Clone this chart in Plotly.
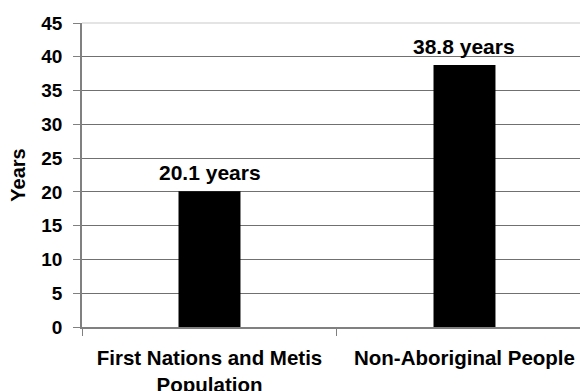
import plotly.graph_objects as go

categories = ["First Nations and Metis<br>Population", "Non-Aboriginal People"]
median_age = [20.1, 38.8]
bar_labels = [f"{v} years" for v in median_age]
y_ticks = [0, 5, 10, 15, 20, 25, 30, 35, 40, 45]

FONT = "Liberation Sans, Arial, sans-serif"

fig = go.Figure(
    go.Bar(
        x=categories,
        y=median_age,
        marker=dict(color="black", line=dict(width=0)),
        width=0.243,
    )
)

# value labels above each bar
for cat, val, lab in zip(categories, median_age, bar_labels):
    fig.add_annotation(
        x=cat, y=val, text=lab, showarrow=False,
        xanchor="center", yanchor="bottom", yshift=5,
        font=dict(family=FONT, size=21, color="black", weight="bold"),
    )

# light top border of the plot area
fig.add_shape(
    type="line", xref="paper", yref="paper", x0=0, x1=1, y0=1, y1=1,
    line=dict(color="#e4e4e4", width=2), layer="above",
)

fig.update_layout(
    width=580,
    height=391,
    margin=dict(l=82, r=0, t=23, b=64),
    paper_bgcolor="white",
    plot_bgcolor="white",
    showlegend=False,
    font=dict(family=FONT, color="black"),
)

fig.update_xaxes(
    range=[-0.5, 1.453],
    automargin=False,
    tickson="boundaries",
    ticks="outside",
    ticklen=7,
    tickcolor="#808080",
    showgrid=False,
    showline=True,
    linecolor="#808080",
    linewidth=1.5,
    ticklabelstandoff=12,
    tickfont=dict(family=FONT, size=20.5, color="black", weight="bold"),
)

fig.update_yaxes(
    range=[0, 45],
    automargin=False,
    tickvals=y_ticks,
    ticks="outside",
    ticklen=7,
    tickcolor="#808080",
    showgrid=True,
    gridcolor="#707070",
    gridwidth=1,
    showline=True,
    linecolor="#808080",
    linewidth=1.5,
    zeroline=False,
    ticklabelstandoff=7,
    tickfont=dict(family=FONT, size=19, color="black", weight="bold"),
    title=dict(text="Years", font=dict(family=FONT, size=20, color="black", weight="bold"), standoff=10),
)

fig.write_html("out.html")
